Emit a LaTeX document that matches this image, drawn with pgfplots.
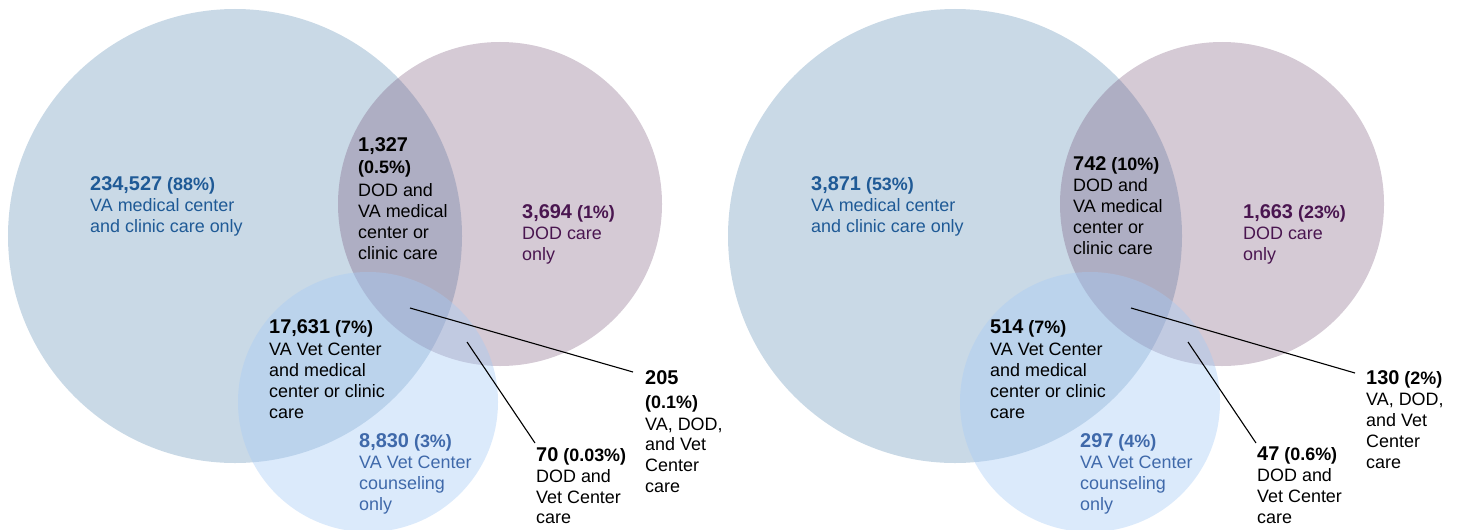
\documentclass[border=0pt]{standalone}
\usepackage{pgfplots}
\pgfplotsset{compat=1.18}
\usepackage{fontspec}
\setmainfont{Liberation Sans}
\definecolor{bigC}{RGB}{75,128,172}
\definecolor{dodC}{RGB}{115,78,115}
\definecolor{vetC}{RGB}{165,202,245}
\definecolor{bigT}{RGB}{31,90,150}
\definecolor{dodT}{RGB}{74,22,80}
\definecolor{vetT}{RGB}{63,105,170}
\newcommand{\Tx}[4][black]{\node[anchor=base west,inner sep=0pt,text=#1,font=\fontsize{18}{21}\selectfont] at (axis cs:#2,#3) {#4};}
\newcommand{\Nm}[1]{{\bfseries\fontsize{20}{24}\selectfont #1}}
\newcommand{\Pc}[1]{{\bfseries #1}}
\pgfplotsset{circ/.style n args={3}{only marks, mark=*, mark size=#1, draw=none,
  mark options={fill=#2, fill opacity=#3, draw opacity=0, line width=0pt}}}
\begin{document}
\begin{tikzpicture}
\begin{axis}[
  width=1461bp, height=529bp, scale only axis,
  xmin=0, xmax=1461, ymin=0, ymax=529, y dir=reverse,
  hide axis, clip marker paths=true,
]
% circles: centre (x,y), radius given as mark size
% left diagram
\addplot[circ={227bp}{bigC}{0.3}] coordinates {(235,236)};
\addplot[circ={162bp}{dodC}{0.3}] coordinates {(500,204)};
\addplot[circ={130bp}{vetC}{0.4}] coordinates {(368,402)};
% right diagram
\addplot[circ={227bp}{bigC}{0.3}] coordinates {(955,236)};
\addplot[circ={162bp}{dodC}{0.3}] coordinates {(1222,204)};
\addplot[circ={130bp}{vetC}{0.4}] coordinates {(1090,402)};
% leader lines
\addplot[black, line width=1.1bp, no marks] coordinates {(410,308) (633,372)};
\addplot[black, line width=1.1bp, no marks] coordinates {(467,342) (535,443)};
\addplot[black, line width=1.1bp, no marks] coordinates {(1131,308) (1355,373)};
\addplot[black, line width=1.1bp, no marks] coordinates {(1188,342) (1256,443)};
% ---- left labels
\Tx[bigT]{90}{190}{\Nm{234,527} \Pc{(88\%)}}
\Tx[bigT]{90}{211}{VA medical center}
\Tx[bigT]{90}{232}{and clinic care only}
\Tx{358}{151}{\Nm{1,327}}
\Tx{358}{173}{\Pc{(0.5\%)}}
\Tx{358}{196}{DOD and}
\Tx{358}{217}{VA medical}
\Tx{358}{238}{center or}
\Tx{358}{259}{clinic care}
\Tx[dodT]{522}{218}{\Nm{3,694} \Pc{(1\%)}}
\Tx[dodT]{522}{239}{DOD care}
\Tx[dodT]{522}{260}{only}
\Tx{269}{333}{\Nm{17,631} \Pc{(7\%)}}
\Tx{269}{355}{VA Vet Center}
\Tx{269}{376}{and medical}
\Tx{269}{397}{center or clinic}
\Tx{269}{418}{care}
\Tx[vetT]{359}{447}{\Nm{8,830} \Pc{(3\%)}}
\Tx[vetT]{359}{468}{VA Vet Center}
\Tx[vetT]{359}{489}{counseling}
\Tx[vetT]{359}{510}{only}
\Tx{536}{461}{\Nm{70} \Pc{(0.03\%)}}
\Tx{536}{482}{DOD and}
\Tx{536}{503}{Vet Center}
\Tx{536}{523}{care}
\Tx{645}{384}{\Nm{205}}
\Tx{645}{408}{\Pc{(0.1\%)}}
\Tx{645}{430}{VA, DOD,}
\Tx{645}{450}{and Vet}
\Tx{645}{471}{Center}
\Tx{645}{492}{care}
% ---- right labels
\Tx[bigT]{811}{190}{\Nm{3,871} \Pc{(53\%)}}
\Tx[bigT]{811}{211}{VA medical center}
\Tx[bigT]{811}{232}{and clinic care only}
\Tx{1073}{170}{\Nm{742} \Pc{(10\%)}}
\Tx{1073}{191}{DOD and}
\Tx{1073}{212}{VA medical}
\Tx{1073}{233}{center or}
\Tx{1073}{254}{clinic care}
\Tx[dodT]{1243}{218}{\Nm{1,663} \Pc{(23\%)}}
\Tx[dodT]{1243}{239}{DOD care}
\Tx[dodT]{1243}{260}{only}
\Tx{990}{333}{\Nm{514} \Pc{(7\%)}}
\Tx{990}{355}{VA Vet Center}
\Tx{990}{376}{and medical}
\Tx{990}{397}{center or clinic}
\Tx{990}{418}{care}
\Tx[vetT]{1080}{447}{\Nm{297} \Pc{(4\%)}}
\Tx[vetT]{1080}{468}{VA Vet Center}
\Tx[vetT]{1080}{489}{counseling}
\Tx[vetT]{1080}{510}{only}
\Tx{1257}{460}{\Nm{47} \Pc{(0.6\%)}}
\Tx{1257}{481}{DOD and}
\Tx{1257}{502}{Vet Center}
\Tx{1257}{523}{care}
\Tx{1366}{384}{\Nm{130} \Pc{(2\%)}}
\Tx{1366}{405}{VA, DOD,}
\Tx{1366}{426}{and Vet}
\Tx{1366}{447}{Center}
\Tx{1366}{468}{care}
\end{axis}
\pgfresetboundingbox
\path (current axis.south west) rectangle (current axis.north east);
\end{tikzpicture}
\end{document}
